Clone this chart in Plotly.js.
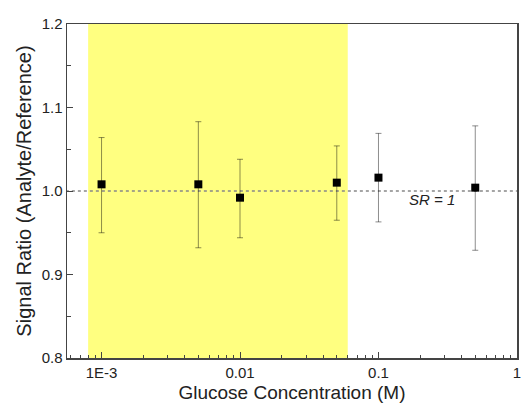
<!DOCTYPE html>
<html>
<head>
<meta charset="utf-8">
<script src="https://cdn.plot.ly/plotly-3.0.1.min.js"></script>
<style>html,body{margin:0;padding:0;background:#fff}#chart{width:522px;height:403px}</style>
</head>
<body>
<div id="chart"></div>
<script>
// Data
var concentration = [0.001, 0.005, 0.01, 0.05, 0.1, 0.5];
var signalRatio   = [1.008, 1.008, 0.992, 1.010, 1.016, 1.004];
var errUpper      = [1.064, 1.083, 1.038, 1.054, 1.069, 1.078];
var errLower      = [0.950, 0.932, 0.944, 0.965, 0.963, 0.929];
var bandRange     = [0.0008, 0.06];
var yRange        = [0.8, 1.2];
var referenceLine = 1;
var xTickVals  = [0.001, 0.01, 0.1, 1];
var xTickText  = ['1E-3', '0.01', '0.1', '1'];
var yTickVals  = [0.8, 0.9, 1.0, 1.1, 1.2];
var yTickText  = ['0.8', '0.9', '1.0', '1.1', '1.2'];

var plus = errUpper.map(function(u, i){ return u - signalRatio[i]; });
var minus = errLower.map(function(l, i){ return signalRatio[i] - l; });

var minorX = [];
[-4, -3, -2, -1].forEach(function(e){
  for (var k = 2; k <= 9; k++) minorX.push(k * Math.pow(10, e));
});

var band = {
  x: [bandRange[0], bandRange[0], bandRange[1], bandRange[1], bandRange[0]],
  y: [yRange[0], yRange[1], yRange[1], yRange[0], yRange[0]],
  type: 'scatter', mode: 'lines', fill: 'toself', fillcolor: '#ffff80',
  line: {width: 0, color: 'rgba(0,0,0,0)'}, showlegend: false, hoverinfo: 'skip'
};

var refLine = {
  x: [0.0005, 1.0], y: [referenceLine, referenceLine],
  type: 'scatter', mode: 'lines', line: {color: '#888', width: 1.3, dash: 'dot'},
  showlegend: false, hoverinfo: 'skip'
};

var trace = {
  x: concentration, y: signalRatio, type: 'scatter', mode: 'markers',
  marker: {symbol: 'square', size: 8, color: '#000'},
  error_y: {type: 'data', symmetric: false, array: plus, arrayminus: minus,
            color: 'rgba(0,0,0,0.45)', thickness: 1, width: 3},
  showlegend: false, hoverinfo: 'x+y'
};

var font = 'Arial, "Liberation Sans", sans-serif';
var layout = {
  width: 522, height: 403,
  margin: {l: 67, r: 5, t: 24, b: 45},
  paper_bgcolor: '#fff', plot_bgcolor: '#fff',
  font: {family: font, color: '#222', size: 15},
  xaxis: {
    type: 'log', range: [Math.log10(0.000563), 0.0005],
    tickmode: 'array', tickvals: xTickVals, ticktext: xTickText,
    ticks: 'inside', ticklen: 6, tickwidth: 1, tickcolor: '#444',
    ticklabeloverflow: 'allow',
    minor: {tickmode: 'array', tickvals: minorX, ticks: 'inside', ticklen: 3, tickwidth: 1, tickcolor: '#444', showgrid: false},
    showline: true, linecolor: '#444', linewidth: 1.5, mirror: true,
    showgrid: false, zeroline: false, automargin: false,
    tickfont: {size: 15, color: '#222'},
    title: {text: 'Glucose Concentration (M)', font: {size: 19, color: '#222'}, standoff: 6}
  },
  yaxis: {
    range: yRange,
    tickmode: 'array', tickvals: yTickVals, ticktext: yTickText,
    ticks: 'inside', ticklen: 6, tickwidth: 1, tickcolor: '#444',
    minor: {dtick: 0.05, ticks: 'inside', ticklen: 4, tickwidth: 1, tickcolor: '#444', showgrid: false},
    showline: true, linecolor: '#444', linewidth: 1.5, mirror: true,
    showgrid: false, zeroline: false, automargin: false,
    tickfont: {size: 15, color: '#222'},
    title: {text: 'Signal Ratio (Analyte/Reference)', font: {size: 20, color: '#222'}, standoff: 4}
  },
  annotations: [
    {x: Math.log10(0.245), y: 0.990, xref: 'x', yref: 'y', text: '<i>SR = 1</i>', showarrow: false,
     font: {size: 15, color: '#222', family: font}}
  ]
};

Plotly.newPlot('chart', [band, refLine, trace], layout, {displayModeBar: false, staticPlot: true});
</script>
</body>
</html>
